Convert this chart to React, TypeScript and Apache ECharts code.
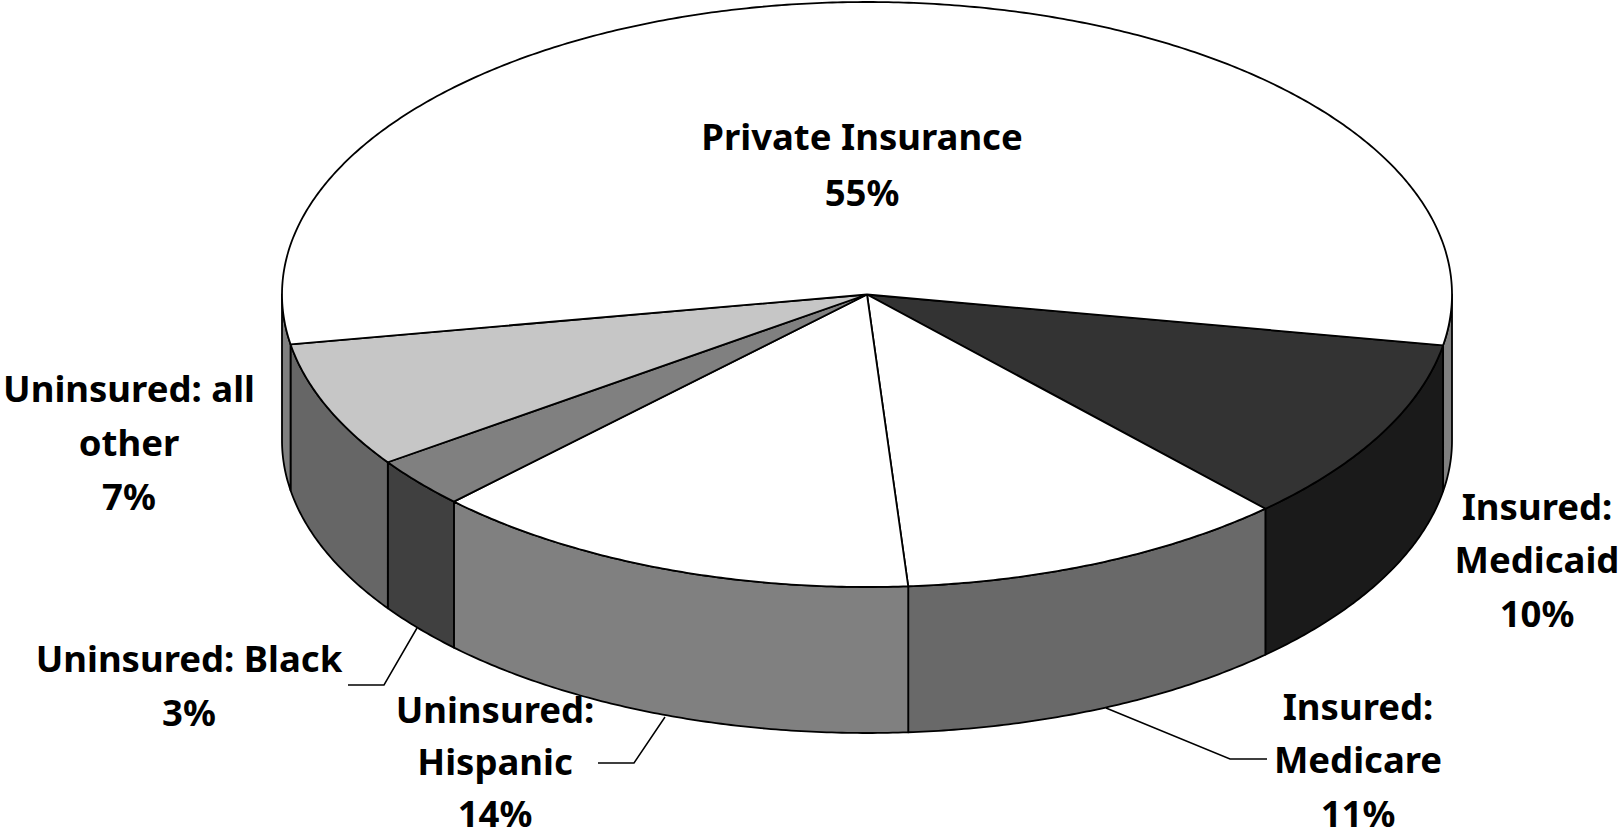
import React, { useEffect, useRef } from "react";
import * as echarts from "echarts";

const categories = ["Insured: Medicaid", "Insured: Medicare", "Uninsured: Hispanic", "Uninsured: Black", "Uninsured: all other", "Private Insurance"];
// Shares (printed labels are rounded)
const shares = [10.3, 10.8, 13.6, 2.8, 7.0, 55.5];
const percentLabels = ["10%", "11%", "14%", "3%", "7%", "55%"];
const topColors = ["#333333", "#ffffff", "#ffffff", "#808080", "#c6c6c6", "#ffffff"];
const wallColors = ["#1a1a1a", "#696969", "#808080", "#404040", "#666666", "#808080"];

const CX = 867, CY = 294.5, RX = 585, RY = 292.5, DEPTH = 146;
const START = 10;
const FONT = "'Noto Sans'";
const STROKE = "#000";

const total = shares.reduce((a, b) => a + b, 0);
const ranges: [number, number][] = [];
{
  let a = START;
  for (const s of shares) {
    const b = a + (s / total) * 360;
    ranges.push([a, b]);
    a = b;
  }
}
const pt = (deg: number, dy = 0): [number, number] => {
  const r = (deg * Math.PI) / 180;
  return [CX + RX * Math.cos(r), CY + RY * Math.sin(r) + dy];
};
const arc = (a: number, b: number, dy = 0) => {
  const n = Math.max(2, Math.ceil(Math.abs(b - a) * 2));
  const out: [number, number][] = [];
  for (let i = 0; i <= n; i++) out.push(pt(a + ((b - a) * i) / n, dy));
  return out;
};
const visibleParts = (a: number, b: number): [number, number][] => {
  const parts: [number, number][] = [];
  for (const [lo, hi] of [[0, 180], [360, 540]]) {
    const s = Math.max(a, lo), e = Math.min(b, hi);
    if (e > s) parts.push([s, e]);
  }
  return parts;
};

const wallItem = (params: any) => {
  const i = params.dataIndex;
  const [a, b] = ranges[i];
  return {
    type: "group",
    children: visibleParts(a, b).map(([s, e]) => ({
      type: "polygon",
      shape: { points: [...arc(s, e), ...arc(e, s, DEPTH)] },
      style: { fill: wallColors[i], stroke: STROKE, lineWidth: 1.8, lineJoin: "round" },
    })),
  };
};
const topItem = (params: any) => {
  const i = params.dataIndex;
  const [a, b] = ranges[i];
  return {
    type: "polygon",
    shape: { points: [[CX, CY], ...arc(a, b)] },
    style: { fill: topColors[i], stroke: STROKE, lineWidth: 1.8, lineJoin: "round" },
  };
};

const labelLines: { lines: string[]; x: number; y: number; gap: number }[] = [
  { lines: ["Insured:", "Medicaid", percentLabels[0]], x: 1537, y: 487, gap: 53.5 },
  { lines: ["Insured:", "Medicare", percentLabels[1]], x: 1358, y: 687, gap: 53.5 },
  { lines: ["Uninsured:", "Hispanic", percentLabels[2]], x: 495, y: 690, gap: 52 },
  { lines: ["Uninsured: Black", percentLabels[3]], x: 189, y: 639, gap: 54 },
  { lines: ["Uninsured: all", "other", percentLabels[4]], x: 129, y: 369, gap: 54 },
  { lines: ["Private Insurance", percentLabels[5]], x: 862, y: 117, gap: 56 },
];
const leaders = [
  [[1106, 708], [1230, 759], [1267, 759]],
  [[665, 717], [634, 763], [598, 763]],
  [[417, 628], [384, 685], [348, 685]],
];

export default function App() {
  const ref = useRef<HTMLDivElement>(null);
  useEffect(() => {
    document.body.style.margin = "0";
    const chart = echarts.init(ref.current!, null, { renderer: "svg" });
    chart.setOption({
      animation: false,
      backgroundColor: "#ffffff",
      series: [
        { type: "custom", coordinateSystem: "none", silent: true, renderItem: wallItem, data: categories.map((c, i) => ({ name: c, value: shares[i] })), z: 1 },
        { type: "custom", coordinateSystem: "none", silent: true, renderItem: topItem, data: categories.map((c, i) => ({ name: c, value: shares[i] })), z: 2 },
      ],
      graphic: [
        ...leaders.map((points) => ({
          type: "polyline",
          z: 3,
          shape: { points },
          style: { fill: "none", stroke: STROKE, lineWidth: 1.5 },
        })),
        ...labelLines.flatMap((l) =>
          l.lines.map((t, k) => ({
            type: "text",
            z: 4,
            x: l.x,
            y: l.y + k * l.gap,
            style: { text: t, fill: "#000", font: `bold 36.5px ${FONT}`, textAlign: "center" },
          }))
        ),
      ],
    });
    return () => chart.dispose();
  }, []);
  return <div ref={ref} style={{ width: 1620, height: 837 }} />;
}
